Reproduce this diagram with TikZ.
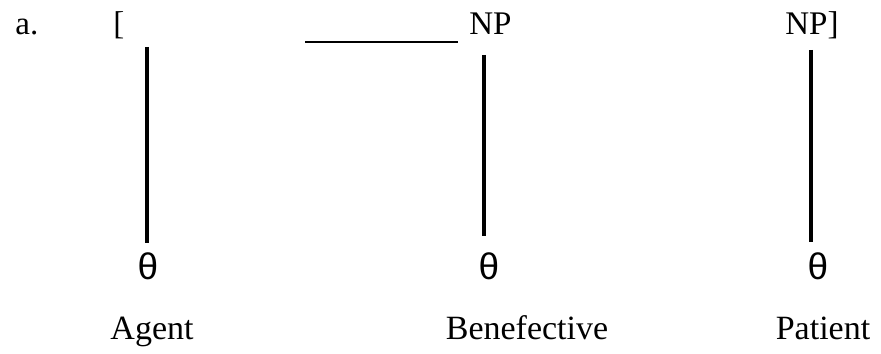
\documentclass[tikz,border=0pt]{standalone}
\usepackage{fontspec}
\setmainfont{Liberation Serif}
\newfontfamily\thetafont{Liberation Sans}
\begin{document}
\begin{tikzpicture}[x=0.5pt,y=-0.5pt,
  toplbl/.style={anchor=base west,inner sep=0pt,font=\fontsize{16.5}{19}\selectfont},
  botlbl/.style={anchor=base,inner sep=0pt,font=\fontsize{17}{20}\selectfont},
  thetalbl/.style={inner sep=0pt,font=\thetafont\fontsize{18.5}{22}\selectfont},
  stem/.style={line width=1.6pt},
  blank/.style={line width=0.75pt}]
\useasboundingbox (0,0) rectangle (881,353);
\node[toplbl] (a) at (15,35) {a.};
\node[toplbl] (lb) at (113,35) {[};
\node[toplbl] (np1) at (469,35) {NP};
\node[toplbl] (np2) at (785,35) {NP]};
\coordinate (u1) at (305,42);
\coordinate (u2) at (458,42);
\draw[blank] (u1) -- (u2);
\node[thetalbl] (th1) at (148,266) {θ};
\node[thetalbl] (th2) at (489,266) {θ};
\node[thetalbl] (th3) at (818,266) {θ};
\coordinate (s1) at (147,47);
\coordinate (s2) at (484,55);
\coordinate (s3) at (811,50);
\coordinate (e1) at (147,243);
\coordinate (e2) at (484,236);
\coordinate (e3) at (811,242);
\draw[stem] (s1) -- (e1);
\draw[stem] (s2) -- (e2);
\draw[stem] (s3) -- (e3);
\node[botlbl] (ag) at (152,339) {Agent};
\node[botlbl] (be) at (527,339) {Benefective};
\node[botlbl] (pa) at (823,339) {Patient};
\end{tikzpicture}
\end{document}
